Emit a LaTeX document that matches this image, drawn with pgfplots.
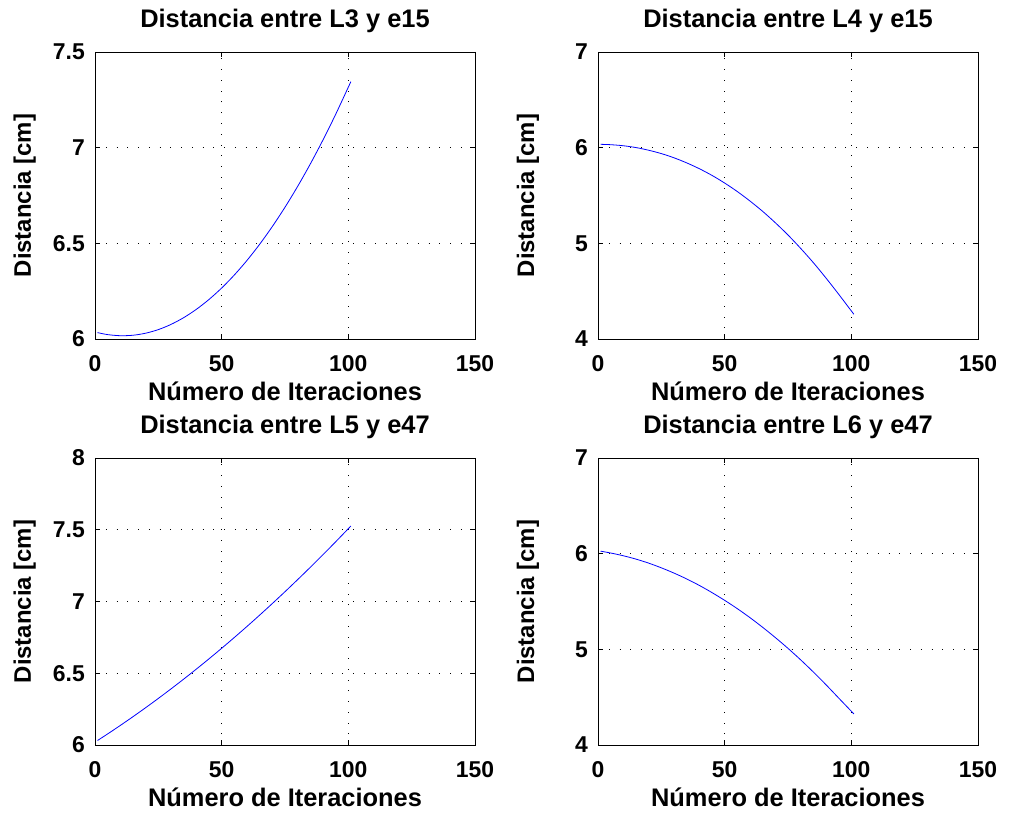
\documentclass[border=0pt]{standalone}
\usepackage{fontspec}
\setmainfont{Liberation Sans}
\usepackage{pgfplots}
\pgfplotsset{compat=1.18}
\pgfplotsset{
  mat/.style={
    scale only axis, width=380bp, height=287bp,
    xmin=0, xmax=150, xtick={0,50,100,150},
    grid=major,
    major grid style={black, line width=0.6pt, dash pattern=on 0.8pt off 10pt},
    axis line style={black, line width=0.8pt},
    tick align=inside, major tick length=5bp,
    tick style={black, line width=0.8pt},
    /pgf/number format/assume math mode=true,
    tick label style={font=\bfseries\fontsize{23}{27}\selectfont},
    title style={font=\bfseries\fontsize{25.5}{29}\selectfont, at={(0.5,1)}, anchor=base, yshift=19bp},
    xticklabel style={anchor=base, inner sep=0pt, yshift=-33bp},
    yticklabel style={anchor=east, inner sep=0pt, xshift=-10bp},
    xlabel style={font=\bfseries\fontsize{25.5}{29}\selectfont, at={(0.5,0)}, anchor=base, yshift=-62bp},
    ylabel style={font=\bfseries\fontsize{24}{28}\selectfont, at={(0,0.5)}, anchor=base, yshift=64bp},
    xlabel={Número de Iteraciones},
    ylabel={Distancia [cm]},
    every axis plot/.style={blue, line width=0.8pt, no marks, smooth},
  }
}
\begin{document}
\begin{tikzpicture}
\useasboundingbox (0bp,0bp) rectangle (1014bp,820bp);
\begin{axis}[mat, at={(95bp,481bp)}, anchor=south west,
  ymin=6, ymax=7.5, ytick={6,6.5,7,7.5}, yticklabels={6,6.5,7,7.5},
  title={Distancia entre L3 y e15}]
\addplot coordinates {(1,6.0334) (5,6.0229) (10,6.0172) (15,6.0196) (20,6.0303) (25,6.0491) (30,6.0762) (35,6.1115) (40,6.1549) (45,6.2066) (50,6.2664) (55,6.3345) (60,6.4108) (65,6.4952) (70,6.5879) (75,6.6887) (80,6.7978) (85,6.915) (90,7.0405) (95,7.1742) (101,7.345)};
\end{axis}
\begin{axis}[mat, at={(598bp,481bp)}, anchor=south west,
  ymin=4, ymax=7, ytick={4,5,6,7},
  title={Distancia entre L4 y e15}]
\addplot coordinates {(1,6.035) (5,6.031) (10,6.020) (15,6.001) (20,5.973) (25,5.938) (30,5.894) (35,5.841) (40,5.780) (45,5.710) (50,5.630) (55,5.541) (60,5.442) (65,5.334) (70,5.215) (75,5.087) (80,4.947) (85,4.798) (90,4.637) (95,4.468) (101,4.258)};
\end{axis}
\begin{axis}[mat, at={(95bp,75bp)}, anchor=south west,
  ymin=6, ymax=8, ytick={6,6.5,7,7.5,8}, yticklabels={6,6.5,7,7.5,8},
  title={Distancia entre L5 y e47}]
\addplot coordinates {(1,6.0313) (5,6.0773) (10,6.1364) (15,6.1974) (20,6.2601) (25,6.3246) (30,6.3909) (35,6.459) (40,6.5288) (45,6.6005) (50,6.674) (55,6.7493) (60,6.8263) (65,6.9052) (70,6.9859) (75,7.0683) (80,7.1526) (85,7.2386) (90,7.3264) (95,7.4161) (101,7.526)};
\end{axis}
\begin{axis}[mat, at={(598bp,75bp)}, anchor=south west,
  ymin=4, ymax=7, ytick={4,5,6,7},
  title={Distancia entre L6 y e47}]
\addplot coordinates {(1,6.026) (5,6.007) (10,5.978) (15,5.943) (20,5.901) (25,5.852) (30,5.797) (35,5.736) (40,5.668) (45,5.593) (50,5.512) (55,5.425) (60,5.331) (65,5.230) (70,5.123) (75,5.010) (80,4.890) (85,4.763) (90,4.630) (95,4.491) (101,4.325)};
\end{axis}
\end{tikzpicture}
\end{document}
